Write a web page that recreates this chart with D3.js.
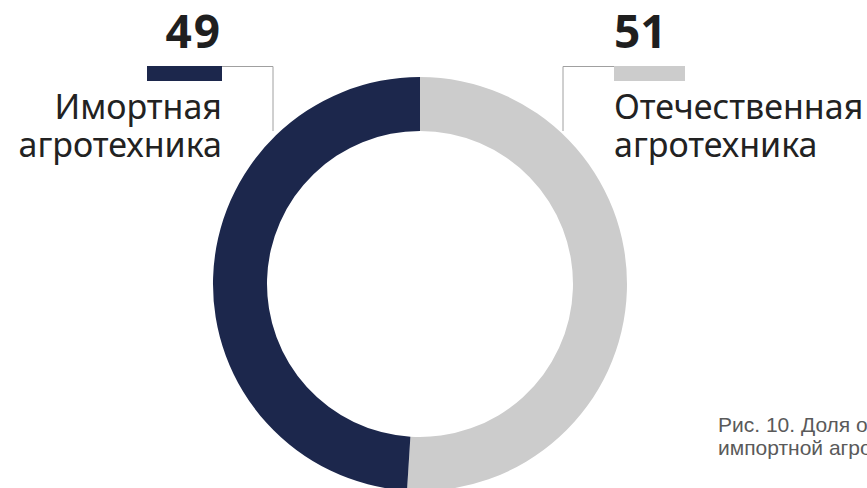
<!DOCTYPE html>
<html>
<head>
<meta charset="utf-8">
<script src="https://cdn.jsdelivr.net/npm/d3@7"></script>
<style>
  body { margin: 0; background: #fff; overflow: hidden; }
</style>
</head>
<body>
<div id="chart"></div>
<script>
// data
var categories = ["Отечественная агротехника", "Имортная агротехника"];
var values = [51, 49];
var colors = ["#cccccc", "#1c274c"];
var caption = ["Рис. 10. Доля отечественной и", "импортной агротехники"];

var width = 867, height = 488;
var cx = 420, cy = 284;
var outerR = 207, innerR = 153;

var svg = d3.select("#chart")
  .append("svg")
    .attr("width", width)
    .attr("height", height);

var g = svg.append("g")
    .attr("transform", "translate(" + cx + "," + cy + ")");

// pie goes clockwise from 12 o'clock, grey first
var pie = d3.pie().sort(null).value(function(d) { return d; });
var arc = d3.arc().innerRadius(innerR).outerRadius(outerR);

g.selectAll("path")
  .data(pie(values))
  .enter().append("path")
    .attr("d", arc)
    .attr("fill", function(d, i) { return colors[i]; });

// labels: one block per side
var labelFont = "'Noto Sans', 'Open Sans', sans-serif";

function addLabel(i, side) {
  var right = side == "right";
  var x0 = right ? 614 : 222;          // text edge
  var anchor = right ? "start" : "end";
  var barW = right ? 71 : 75;

  svg.append("text")
    .attr("x", x0)
    .attr("y", 48)
    .attr("text-anchor", anchor)
    .attr("font-family", labelFont)
    .attr("font-weight", 700)
    .attr("font-size", 46)
    .attr("letter-spacing", right ? 0 : 2)
    .attr("fill", "#1f1f1f")
    .text(values[i]);

  svg.append("rect")
    .attr("x", right ? x0 : x0 - barW)
    .attr("y", 66)
    .attr("width", barW)
    .attr("height", 15)
    .attr("fill", colors[i]);

  // leader line to the ring
  var lx = right ? 563 : 273;
  svg.append("path")
    .attr("d", "M" + x0 + ",66.5H" + lx + "V131")
    .attr("fill", "none")
    .attr("stroke", "#a0a0a0")
    .attr("stroke-width", 1);

  var words = categories[i].split(" ");
  svg.append("text")
    .attr("text-anchor", anchor)
    .attr("font-family", labelFont)
    .attr("font-size", 34)
    .attr("fill", "#222")
    .selectAll("tspan")
    .data(words)
    .enter().append("tspan")
      .attr("x", x0)
      .attr("y", function(d, k) { return 119 + k * 38; })
      .text(function(d) { return d; });
}

addLabel(0, "right");
addLabel(1, "left");

// caption, cut by the right edge
svg.append("text")
  .attr("font-family", "'Liberation Sans', Arial, sans-serif")
  .attr("font-size", 21)
  .attr("fill", "#5a5a5a")
  .selectAll("tspan")
  .data(caption)
  .enter().append("tspan")
    .attr("x", 718)
    .attr("y", function(d, k) { return 432 + k * 23; })
    .text(function(d) { return d; });
</script>
</body>
</html>
